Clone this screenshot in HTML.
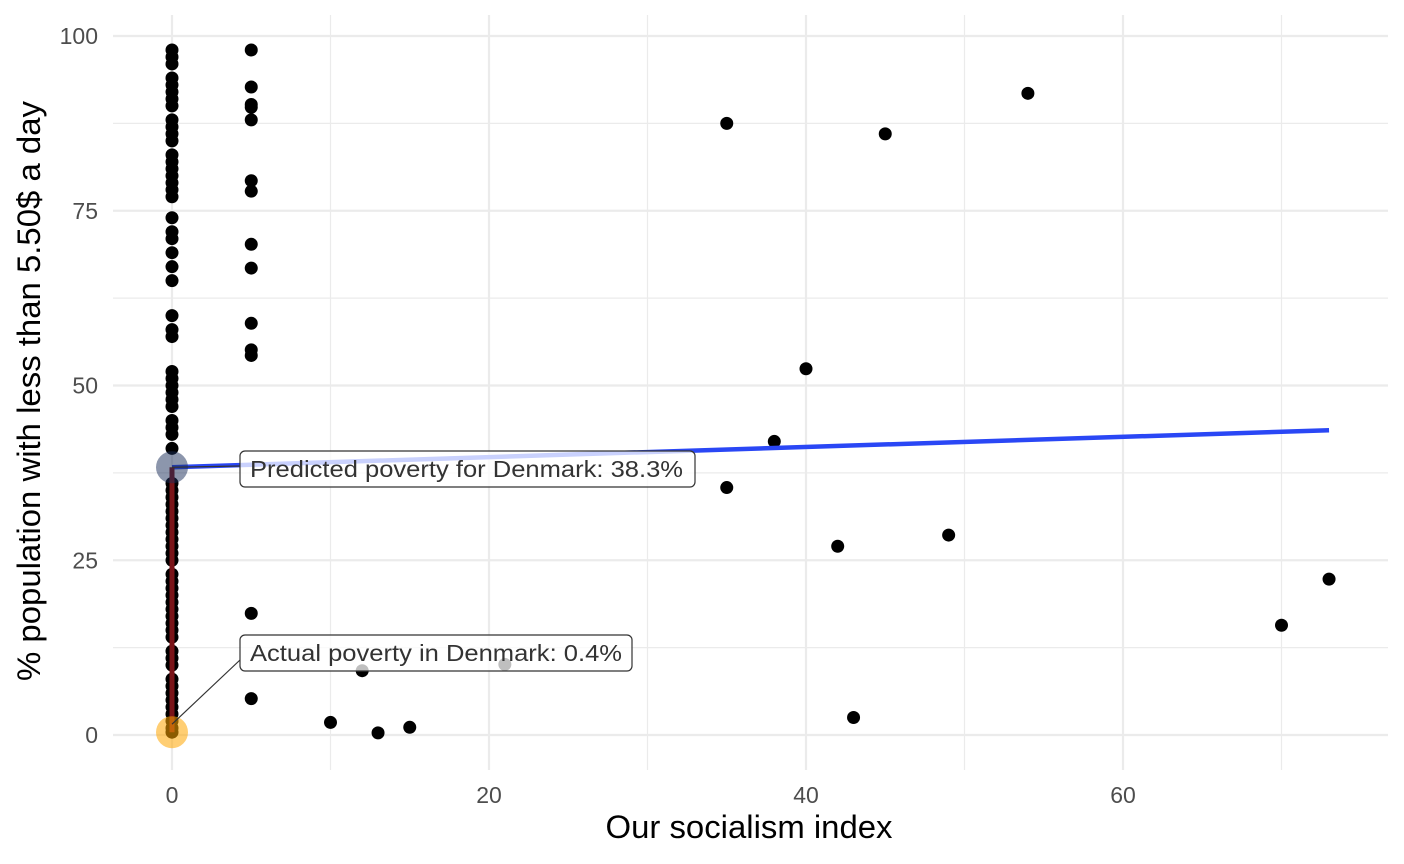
<!DOCTYPE html>
<html><head><meta charset="utf-8"><style>
html,body{margin:0;padding:0;background:#fff;width:1404px;height:864px;overflow:hidden}
svg text{font-family:"Liberation Sans",Arial,sans-serif}
</style></head><body>
<svg id="chart" width="1404" height="864" viewBox="0 0 1404 864" xmlns="http://www.w3.org/2000/svg">
<g id="grid"></g>
<g id="axes"></g>
<g id="marks"></g>
<text x="749" y="838" font-size="32" text-anchor="middle" fill="#000" textLength="287" lengthAdjust="spacingAndGlyphs">Our socialism index</text>
<text transform="translate(40,391) rotate(-90)" font-size="32" text-anchor="middle" fill="#000" textLength="580" lengthAdjust="spacingAndGlyphs">% population with less than 5.50$ a day</text>
</svg>
<script>
const xVals0=[0,0,0,0,0,0,0,0,0,0,0,0,0,0,0,0,0,0,0,0,0,0,0,0,0,0,0,0,0,0,0,0,0,0,0,0,0,0,0,0,0,0,0,0,0,0,0,0,0,0,0,0,0,0,0,0,0,0,0,0,0,0,0,0,0,0,0,0,0,0,0,0];
const yVals0=[98,97,96,94,93,92,91,90,88,87,86,85,83,82,81,80,79,78,77,74,72,71,69,67,65,60,58,57,52,51,50,49,48,47,45,44,43,41,34,32,31,30,28,27,25,23,22,21,20,19,18,17,16,15,14,12,11,10,8,7,6,5,4,3,2,1,0.4,36,35,33,29,26];
const xValsOther=[5,5,5,5,5,5,5,5,5,5,5,5,5,5,10,12,13,15,21,35,35,38,40,42,43,45,49,54,70,73];
const yValsOther=[98,92.7,90.2,89.8,88,79.3,77.8,70.2,66.8,58.9,55.1,54.3,17.4,5.2,1.8,9.2,0.3,1.1,10.1,87.5,35.4,42,52.4,27,2.5,86,28.6,91.8,15.7,22.3];
const fitX=[0,73];
const fitY=[38.3,43.6];
const predicted=[0,38.3];
const actual=[0,0.4];
const xTicks=[0,20,40,60];
const yTicks=[0,25,50,75,100];
const NS="http://www.w3.org/2000/svg";
const sx=v=>172+v*15.85;
const sy=v=>735-v*6.99;
function mk(parent,tag,attrs){const e=document.createElementNS(NS,tag);for(const k in attrs)e.setAttribute(k,attrs[k]);document.getElementById(parent).appendChild(e);return e;}
for(let i=0;i<=7;i++){const v=i*10;const e=mk('grid','line',{x1:sx(v),x2:sx(v),y1:15,y2:770,stroke:'#ebebeb','stroke-width':i%2?1.2:2.2});

}
for(let i=0;i<=8;i++){const v=i*12.5;const e=mk('grid','line',{x1:113,x2:1388,y1:sy(v),y2:sy(v),stroke:'#ebebeb','stroke-width':i%2?1.2:2.2});

}
xTicks.forEach(t=>{const e=mk('axes','text',{x:sx(t),y:803,'font-size':23,'text-anchor':'middle',fill:'#4d4d4d'});e.textContent=t;

});
yTicks.forEach(t=>{const e=mk('axes','text',{x:98,y:sy(t)+8,'font-size':23,'text-anchor':'end',fill:'#4d4d4d'});e.textContent=t;

});
function pts(xs,ys){xs.forEach((x,i)=>{const c=mk('marks','circle',{cx:sx(x),cy:sy(ys[i]),r:6.5,fill:'#000'});

});}
pts(xVals0,yVals0);pts(xValsOther,yValsOther);
let l=mk('marks','line',{x1:sx(fitX[0]),y1:sy(fitY[0]),x2:sx(fitX[1]),y2:sy(fitY[1]),stroke:'#2a47f5','stroke-width':4.5});


l=mk('marks','line',{x1:sx(actual[0]),y1:sy(actual[1]),x2:sx(predicted[0]),y2:sy(predicted[1]),stroke:'#7a1418','stroke-width':5});


let c=mk('marks','circle',{cx:sx(predicted[0]),cy:sy(predicted[1]),r:16,fill:'rgba(25,45,90,0.5)'});


c=mk('marks','circle',{cx:sx(actual[0]),cy:sy(actual[1]),r:16,fill:'rgba(255,165,0,0.55)'});


function label(name,txt,px,py,bx,by,w,tl){
 const lead=mk('marks','line',{x1:px,y1:py,x2:bx,y2:by+(name==='actual-label'?25:15),stroke:'#333','stroke-width':1.2});
 
 
 const r=mk('marks','rect',{x:bx,y:by,width:w,height:36,rx:5,fill:'rgba(255,255,255,0.75)',stroke:'#333','stroke-width':1.2});
 
 
 const t=mk('marks','text',{x:bx+10,y:by+26,'font-size':23,fill:'#333',textLength:tl,lengthAdjust:'spacingAndGlyphs'});t.textContent=txt;
 
 
}
label('predicted-label','Predicted poverty for Denmark: 38.3%',sx(predicted[0]),sy(predicted[1]),240,451,455,433);
label('actual-label','Actual poverty in Denmark: 0.4%',sx(actual[0]),sy(actual[1])-8,240,635,392,372);
</script>
</body></html>
